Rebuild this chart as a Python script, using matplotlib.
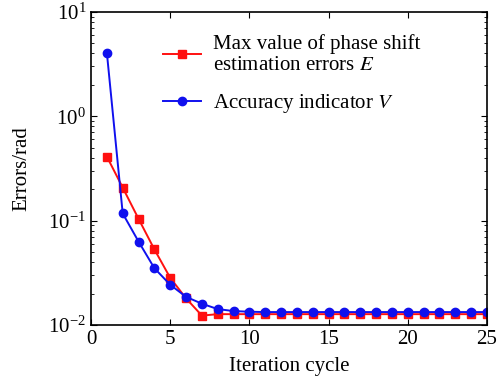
import matplotlib
matplotlib.use("Agg")
import matplotlib.pyplot as plt
from matplotlib.ticker import LogLocator, MultipleLocator, NullFormatter

plt.rcParams['font.family'] = ['Liberation Serif', 'DejaVu Serif']
plt.rcParams['mathtext.fontset'] = 'stix'

iterations = list(range(1, 26))
max_error_E = [0.41, 0.207, 0.104, 0.053, 0.0283, 0.018, 0.0123, 0.0127, 0.0127,
               0.0127, 0.0127, 0.0127, 0.0127, 0.0127, 0.0127, 0.0127, 0.0127,
               0.0127, 0.0127, 0.0127, 0.0127, 0.0127, 0.0127, 0.0127, 0.0127]
accuracy_V = [4.04, 0.117, 0.063, 0.035, 0.0243, 0.0186, 0.0160, 0.0142, 0.0136,
              0.0134, 0.0133, 0.0133, 0.0133, 0.0133, 0.0133, 0.0133, 0.0133,
              0.0133, 0.0133, 0.0133, 0.0133, 0.0133, 0.0133, 0.0133, 0.0133]

fig = plt.figure(figsize=(5.03, 3.81), dpi=100)
ax = fig.add_axes([0.181, 0.147, 0.787, 0.822])

ax.plot(iterations, max_error_E, color='#ff1010', marker='s', markersize=6, lw=1.4,
        label='Max value of phase shift\nestimation errors $E$')
ax.plot(iterations, accuracy_V, color='#1010ee', marker='o', markersize=6, lw=1.4,
        label='Accuracy indicator $V$')

ax.set_yscale('log')
ax.set_ylim(0.01, 10)
ax.set_xlim(0, 25)
ax.xaxis.set_major_locator(MultipleLocator(5))
ax.yaxis.set_major_locator(LogLocator(base=10, numticks=10))
ax.yaxis.set_minor_locator(LogLocator(base=10, subs=range(2, 10), numticks=10))
ax.yaxis.set_minor_formatter(NullFormatter())

ax.tick_params(which='both', direction='in', top=True, right=True, labelsize=15)
ax.tick_params(which='major', length=4)
ax.tick_params(which='minor', length=2)
for s in ax.spines.values():
    s.set_linewidth(1.2)

ax.set_xlabel('Iteration cycle', fontsize=15, labelpad=6)
ax.set_ylabel('Errors/rad', fontsize=15, labelpad=12)

ax.legend(loc='upper left', bbox_to_anchor=(0.135, 0.99), frameon=False, fontsize=15,
          handlelength=1.8, labelspacing=0.8, handletextpad=0.6)

fig.savefig('out.png', dpi=100)
